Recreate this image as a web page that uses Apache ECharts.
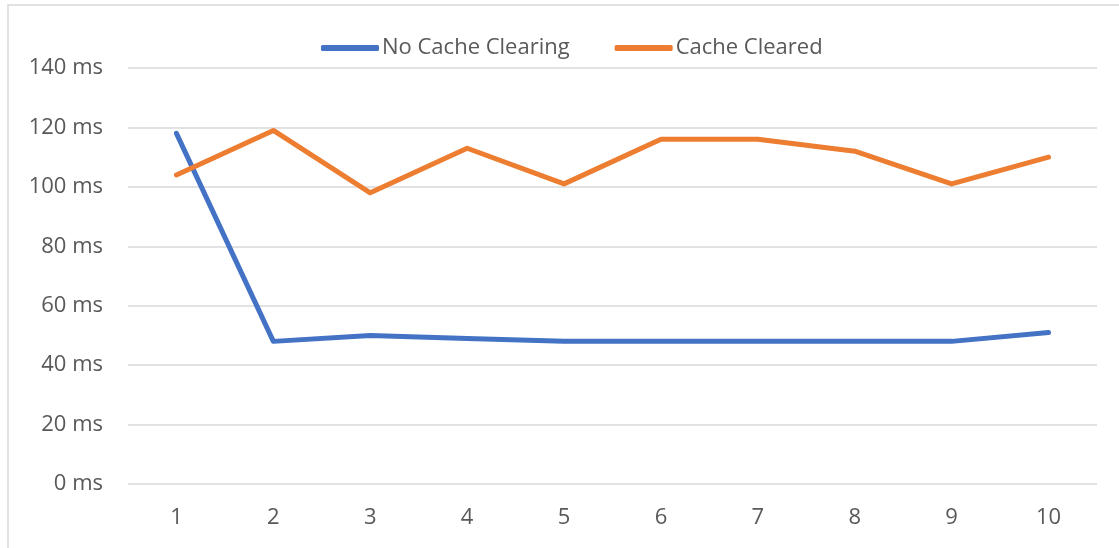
<!DOCTYPE html>
<html>
<head>
<meta charset="utf-8">
<script src="https://cdn.jsdelivr.net/npm/echarts@6/dist/echarts.min.js"></script>
<style>
	html, body { margin: 0; padding: 0; background: #fff; }
	#chart { width: 1119px; height: 548px; }
</style>
</head>
<body>
<div id="chart"></div>
<script>
var runs = ['1', '2', '3', '4', '5', '6', '7', '8', '9', '10'];
var noCacheClearing = [118, 48, 50, 49, 48, 48, 48, 48, 48, 51];
var cacheCleared = [104, 119, 98, 113, 101, 116, 116, 112, 101, 110];
var yTicks = [0, 20, 40, 60, 80, 100, 120, 140];

var textColor = '#595959';
var font = 'Open Sans';

var chart = echarts.init(document.getElementById('chart'));
var option = {
	animation: false,
	graphic: [{
		type: 'rect',
		shape: { x: 8, y: 5, width: 1200, height: 600 },
		style: { fill: 'none', stroke: '#d9d9d9', lineWidth: 1.5 },
		silent: true
	}],
	legend: {
		top: 32,
		left: 316,
		itemWidth: 58,
		itemHeight: 6,
		itemGap: 45,
		icon: 'roundRect',
		textStyle: { color: textColor, fontSize: 22, fontFamily: font, padding: [0, 0, 0, -2] },
		data: ['No Cache Clearing', 'Cache Cleared']
	},
	grid: { left: 128, right: 22, top: 68, bottom: 64, containLabel: false },
	xAxis: {
		type: 'category',
		data: runs,
		boundaryGap: true,
		axisLine: { show: false },
		axisTick: { show: false },
		axisLabel: { color: textColor, fontSize: 22, fontFamily: font, margin: 23 }
	},
	yAxis: {
		type: 'value',
		min: yTicks[0],
		max: yTicks[yTicks.length - 1],
		interval: 20,
		axisLine: { show: false },
		axisTick: { show: false },
		splitLine: { lineStyle: { color: '#d9d9d9', width: 1.5 } },
		axisLabel: {
			color: textColor, fontSize: 22, fontFamily: font, margin: 25,
			formatter: function(v) { return v + ' ms'; }
		}
	},
	series: [
		{
			name: 'No Cache Clearing',
			type: 'line',
			data: noCacheClearing,
			showSymbol: false,
			symbol: 'none',
			itemStyle: { color: '#4472C4' },
			lineStyle: { color: '#4472C4', width: 5, cap: 'round', join: 'round' }
		},
		{
			name: 'Cache Cleared',
			type: 'line',
			data: cacheCleared,
			showSymbol: false,
			symbol: 'none',
			itemStyle: { color: '#ED7D31' },
			lineStyle: { color: '#ED7D31', width: 5, cap: 'round', join: 'round' }
		}
	]
};
chart.setOption(option);
</script>
</body>
</html>
